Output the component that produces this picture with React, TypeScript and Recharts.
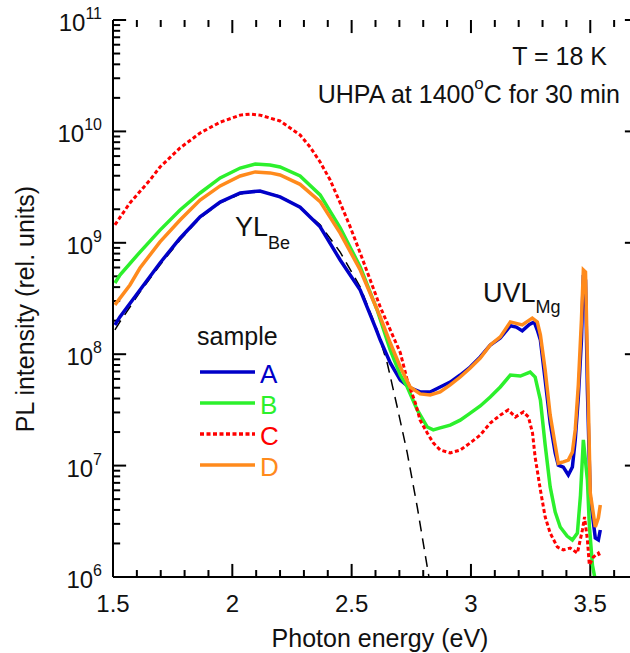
import { LineChart, Line, XAxis, YAxis, Legend, ReferenceLine } from "recharts";

// photon energy (eV) and PL intensity (rel. units)
const energyA = [1.508, 1.529, 1.613, 1.697, 1.781, 1.865, 1.949, 2.033, 2.116, 2.2, 2.284, 2.368, 2.452, 2.536, 2.599, 2.62, 2.662, 2.704, 2.745, 2.787, 2.829, 2.871, 2.913, 2.955, 2.997, 3.039, 3.081, 3.123, 3.165, 3.19, 3.215, 3.245, 3.265, 3.28, 3.291, 3.311, 3.332, 3.353, 3.366, 3.387, 3.408, 3.425, 3.437, 3.45, 3.463, 3.471, 3.48, 3.488, 3.5, 3.521, 3.534, 3.542];
const intensityA = [1.83e8, 2.16e8, 3.77e8, 6.59e8, 1.1e9, 1.71e9, 2.32e9, 2.8e9, 2.92e9, 2.58e9, 2.09e9, 1.39e9, 7.01e8, 3.77e8, 1.75e8, 1.34e8, 8.34e7, 5.86e7, 4.98e7, 4.58e7, 4.58e7, 5.08e7, 5.62e7, 6.5e7, 7.67e7, 9.44e7, 1.21e8, 1.4e8, 1.8e8, 1.75e8, 1.62e8, 1.85e8, 1.95e8, 1.6e8, 1.34e8, 5.86e7, 2.41e7, 1.3e7, 1.01e7, 9.7e6, 8.24e6, 9.7e6, 1.7e7, 4.13e7, 1.34e8, 5.14e8, 4.63e8, 4.78e7, 5.22e6, 2.24e6, 2.15e6, 2.64e6];

const energyB = [1.508, 1.529, 1.613, 1.697, 1.781, 1.865, 1.949, 2.033, 2.096, 2.158, 2.2, 2.284, 2.368, 2.452, 2.536, 2.607, 2.662, 2.704, 2.733, 2.775, 2.817, 2.842, 2.871, 2.913, 2.955, 2.997, 3.039, 3.081, 3.123, 3.165, 3.207, 3.248, 3.269, 3.291, 3.311, 3.332, 3.353, 3.374, 3.403, 3.425, 3.446, 3.459, 3.471, 3.488, 3.496, 3.509, 3.521, 3.534];
const intensityB = [4.36e8, 5.14e8, 8.26e8, 1.3e9, 1.97e9, 2.8e9, 3.82e9, 4.69e9, 5.09e9, 4.99e9, 4.79e9, 3.98e9, 2.69e9, 1.36e9, 6.07e8, 2.49e8, 1.09e8, 6.5e7, 5.08e7, 3.16e7, 2.22e7, 2.09e7, 2.18e7, 2.31e7, 2.56e7, 2.96e7, 3.43e7, 4.13e7, 5.08e7, 6.5e7, 6.37e7, 6.92e7, 6.24e7, 3.88e7, 1.53e7, 6.43e6, 3.83e6, 2.81e6, 2.33e6, 2.15e6, 2.48e6, 5.44e6, 1.7e7, 7.43e6, 2.93e6, 1.28e6, 9.4e5, 8.5e5];

const energyC = [1.508, 1.571, 1.655, 1.697, 1.781, 1.865, 1.949, 2.033, 2.075, 2.116, 2.2, 2.284, 2.326, 2.368, 2.41, 2.452, 2.494, 2.536, 2.578, 2.62, 2.662, 2.704, 2.733, 2.767, 2.787, 2.817, 2.842, 2.871, 2.913, 2.955, 2.997, 3.039, 3.081, 3.123, 3.156, 3.186, 3.22, 3.241, 3.258, 3.269, 3.291, 3.311, 3.332, 3.362, 3.387, 3.416, 3.446, 3.467, 3.476, 3.488, 3.496, 3.513, 3.534, 3.542];
const intensityC = [1.45e9, 2.28e9, 3.66e9, 4.79e9, 7.1e9, 9.68e9, 1.21e10, 1.4e10, 1.43e10, 1.4e10, 1.24e10, 9.29e9, 7.24e9, 5.31e9, 3.66e9, 2.28e9, 1.39e9, 8.09e8, 4.63e8, 2.65e8, 1.65e8, 1.03e8, 5.86e7, 3.65e7, 2.56e7, 1.96e7, 1.6e7, 1.38e7, 1.3e7, 1.38e7, 1.6e7, 1.88e7, 2.41e7, 2.84e7, 3.16e7, 2.73e7, 3.03e7, 2.73e7, 1.96e7, 1.19e7, 6.04e6, 3.46e6, 2.48e6, 1.86e6, 1.75e6, 1.82e6, 1.64e6, 2.64e6, 3.46e6, 2.15e6, 1.28e6, 1.51e6, 1.64e6, 1.51e6];

const energyD = [1.508, 1.571, 1.613, 1.697, 1.781, 1.865, 1.949, 2.033, 2.096, 2.158, 2.2, 2.284, 2.368, 2.452, 2.536, 2.62, 2.662, 2.704, 2.745, 2.787, 2.829, 2.871, 2.913, 2.955, 2.997, 3.039, 3.081, 3.123, 3.165, 3.215, 3.257, 3.278, 3.291, 3.311, 3.332, 3.353, 3.366, 3.387, 3.408, 3.425, 3.437, 3.45, 3.463, 3.471, 3.48, 3.488, 3.5, 3.521, 3.534, 3.542];
const intensityD = [2.77e8, 4.18e8, 5.94e8, 1.02e9, 1.6e9, 2.42e9, 3.24e9, 3.98e9, 4.33e9, 4.24e9, 4.06e9, 3.35e9, 2.34e9, 1.22e9, 5.7e8, 2.16e8, 1.26e8, 7.67e7, 5.08e7, 4.4e7, 4.31e7, 4.58e7, 5.3e7, 6.24e7, 7.52e7, 9.25e7, 1.21e8, 1.43e8, 1.95e8, 1.83e8, 2.11e8, 1.95e8, 1.49e8, 7.21e7, 2.84e7, 1.53e7, 1.05e7, 1.08e7, 1.12e7, 1.32e7, 2.09e7, 5.3e7, 2.03e8, 5.7e8, 5.47e8, 8.87e7, 5.68e6, 2.81e6, 3.39e6, 4.43e6];

// YL(Be) band fit (dashed)
const energyFit = [1.508, 1.529, 1.613, 1.697, 1.781, 1.865, 1.949, 2.033, 2.116, 2.2, 2.284, 2.368, 2.452, 2.536, 2.607, 2.649, 2.691, 2.733, 2.775, 2.821, 2.83];
const intensityFit = [1.65e8, 1.95e8, 3.61e8, 6.32e8, 1.06e9, 1.67e9, 2.28e9, 2.74e9, 2.92e9, 2.63e9, 2.09e9, 1.45e9, 8.26e8, 4.01e8, 1.65e8, 8.34e7, 3.36e7, 1.3e7, 4.25e6, 1.09e6, 8.5e5];

const xMajor = [1.5, 2, 2.5, 3, 3.5];
const xMinor = [1.6, 1.7, 1.8, 1.9, 2.1, 2.2, 2.3, 2.4, 2.6, 2.7, 2.8, 2.9, 3.1, 3.2, 3.3, 3.4, 3.6];
const yDecades = [1e6, 1e7, 1e8, 1e9, 1e10, 1e11];
const yMultipliers = [2, 3, 4, 5, 6, 7, 8, 9];

const FONT = "'Liberation Sans', Arial, Helvetica, sans-serif";
const X_MIN = 1.5;
const X_MAX = 3.7;
const Y_MIN = 1e6;
const Y_MAX = 1e11;

const toPoints = (e: number[], v: number[]) => e.map((x, i) => ({ e: x, v: v[i] }));

const series = [
  { name: "A", color: "#0000c8", dash: undefined, width: 3.5, data: toPoints(energyA, intensityA) },
  { name: "B", color: "#2cf02c", dash: undefined, width: 3.5, data: toPoints(energyB, intensityB) },
  { name: "C", color: "#ff0000", dash: "4 2.5", width: 3, data: toPoints(energyC, intensityC) },
  { name: "D", color: "#ff8a1c", dash: undefined, width: 3.5, data: toPoints(energyD, intensityD) },
];

const yMinor = yDecades.slice(0, -1).flatMap((d) => yMultipliers.map((m) => m * d));

// inward tick lengths expressed in axis units (about 13px major, 7px minor)
const X_TICK_MAJOR = 1.31; // factor on the log axis
const X_TICK_MINOR = 1.155;
const Y_TICK_MAJOR = 0.055; // eV
const Y_TICK_MINOR = 0.03;

type Seg = [{ x: number; y: number }, { x: number; y: number }];
const tickSegments: Seg[] = [
  ...xMajor.flatMap((t): Seg[] => [
    [{ x: t, y: Y_MIN }, { x: t, y: Y_MIN * X_TICK_MAJOR }],
    [{ x: t, y: Y_MAX / X_TICK_MAJOR }, { x: t, y: Y_MAX }],
  ]),
  ...xMinor.flatMap((t): Seg[] => [
    [{ x: t, y: Y_MIN }, { x: t, y: Y_MIN * X_TICK_MINOR }],
    [{ x: t, y: Y_MAX / X_TICK_MINOR }, { x: t, y: Y_MAX }],
  ]),
  ...yDecades.flatMap((t): Seg[] => [
    [{ x: X_MIN, y: t }, { x: X_MIN + Y_TICK_MAJOR, y: t }],
    [{ x: X_MAX - Y_TICK_MAJOR, y: t }, { x: X_MAX, y: t }],
  ]),
  ...yMinor.flatMap((t): Seg[] => [
    [{ x: X_MIN, y: t }, { x: X_MIN + Y_TICK_MINOR, y: t }],
    [{ x: X_MAX - Y_TICK_MINOR, y: t }, { x: X_MAX, y: t }],
  ]),
];

function XLabel(props: any) {
  const { x, y, payload } = props;
  return (
    <text x={x} y={y + 35} textAnchor="middle" fontSize={24} fontFamily={FONT} fill="#111">
      {payload.value}
    </text>
  );
}

function YLabel(props: any) {
  const { x, y, payload } = props;
  const exp = Math.round(Math.log10(payload.value));
  return (
    <text x={x - 11} y={y + 11} textAnchor="end" fontSize={24} fontFamily={FONT} fill="#111">
      10
      <tspan dy={-12} fontSize={16}>
        {exp}
      </tspan>
    </text>
  );
}

function SampleLegend() {
  return (
    <svg width={120} height={170} style={{ overflow: "visible" }}>
      <text x={7} y={27} fontSize={25} fontFamily={FONT} fill="#111">
        sample
      </text>
      {series.map((s, i) => {
        const ly = 54 + i * 31;
        return (
          <g key={s.name}>
            <line x1={10} y1={ly} x2={65} y2={ly} stroke={s.color} strokeWidth={3.5} strokeDasharray={s.dash} />
            <text x={70} y={ly + 11} fontSize={26} fontFamily={FONT} fill={s.color}>
              {s.name}
            </text>
          </g>
        );
      })}
    </svg>
  );
}

export default function App() {
  const axisLine = { stroke: "#000", strokeWidth: 2 };
  return (
    <div style={{ position: "absolute", left: 0, top: 0, width: 630, height: 653, overflow: "hidden", background: "#fff" }}>
      <LineChart width={640} height={653} margin={{ top: 20, right: 2, left: 0, bottom: 0 }}>
        <XAxis
          type="number"
          dataKey="e"
          domain={[X_MIN, X_MAX]}
          allowDataOverflow
          ticks={xMajor}
          interval={0}
          height={76}
          tickSize={0}
          tickMargin={0}
          tickLine={false}
          axisLine={axisLine}
          tick={(p: any) => <XLabel {...p} />}
        />
        <XAxis
          xAxisId="top"
          orientation="top"
          type="number"
          dataKey="e"
          domain={[X_MIN, X_MAX]}
          allowDataOverflow
          ticks={xMajor}
          height={0}
          tickSize={0}
          tickLine={false}
          axisLine={axisLine}
          tick={false}
        />
        <YAxis
          type="number"
          scale="log"
          domain={[Y_MIN, Y_MAX]}
          allowDataOverflow
          ticks={yDecades}
          interval={0}
          width={113}
          tickSize={0}
          tickMargin={0}
          tickLine={false}
          axisLine={axisLine}
          tick={(p: any) => <YLabel {...p} />}
        />
        {tickSegments.map((seg, i) => (
          <ReferenceLine key={`tick-${i}`} segment={seg} stroke="#000" strokeWidth={2} />
        ))}
        <Line
          data={toPoints(energyFit, intensityFit)}
          dataKey="v"
          name="fit"
          type="linear"
          stroke="#000"
          strokeWidth={1.5}
          strokeDasharray="11 7"
          dot={false}
          legendType="none"
          isAnimationActive={false}
        />
        {series.map((s) => (
          <Line
            key={s.name}
            data={s.data}
            dataKey="v"
            name={s.name}
            type="linear"
            stroke={s.color}
            strokeWidth={s.width}
            strokeDasharray={s.dash}
            dot={false}
            isAnimationActive={false}
          />
        ))}
        <Legend
          layout="horizontal"
          verticalAlign="middle"
          align="center"
          wrapperStyle={{ position: "absolute", left: 190, top: 318, width: 120, height: 170 }}
          content={() => <SampleLegend />}
        />
      </LineChart>
      <svg
        width={630}
        height={653}
        style={{ position: "absolute", left: 0, top: 0, pointerEvents: "none" }}
        fontFamily={FONT}
        fill="#111"
      >
        <text x={607} y={65} textAnchor="end" fontSize={25}>
          T = 18 K
        </text>
        <text x={620} y={103} textAnchor="end" fontSize={25}>
          UHPA at 1400
          <tspan dy={-14} fontSize={17}>
            o
          </tspan>
          <tspan dy={14}>C for 30 min</tspan>
        </text>
        <text x={235} y={236} fontSize={27}>
          YL
          <tspan dy={13} fontSize={18}>
            Be
          </tspan>
        </text>
        <text x={483} y={302} fontSize={27}>
          UVL
          <tspan dy={11} fontSize={18}>
            Mg
          </tspan>
        </text>
        <text x={380} y={647} textAnchor="middle" fontSize={25}>
          Photon energy (eV)
        </text>
        <text x={34} y={309} textAnchor="middle" fontSize={25} transform="rotate(-90 34 309)">
          PL intensity (rel. units)
        </text>
      </svg>
    </div>
  );
}
